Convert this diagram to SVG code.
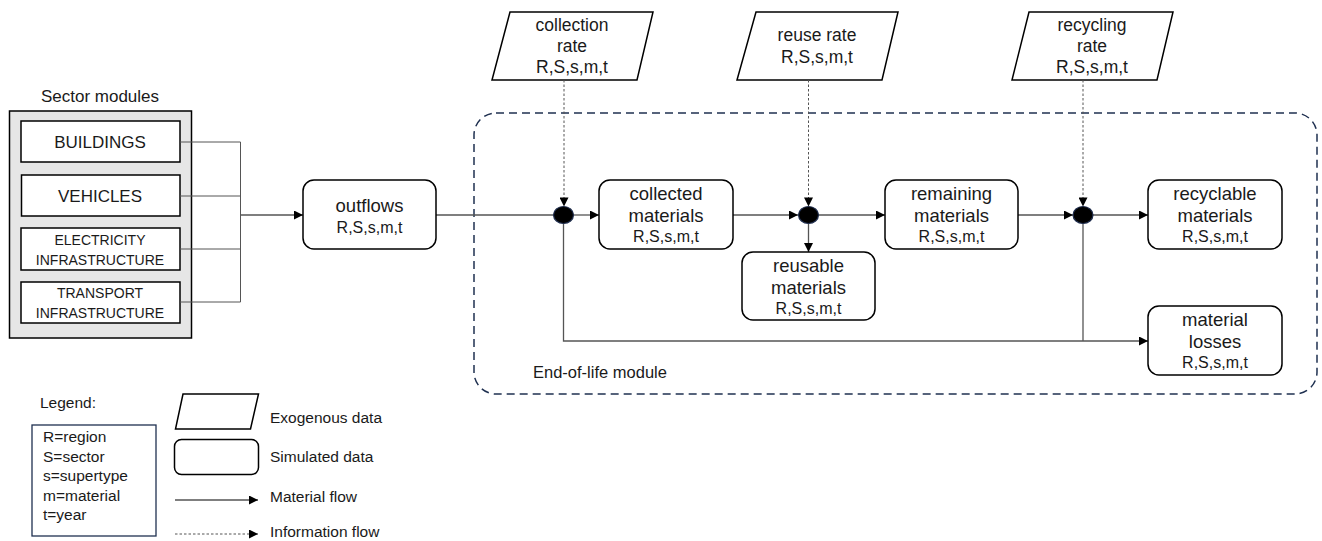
<svg xmlns="http://www.w3.org/2000/svg" width="1322" height="541" viewBox="0 0 1322 541">
<style>
text{font-family:"Liberation Sans",Arial,sans-serif;fill:#1a1a1a}
.lbl{font-size:18.5px;text-anchor:middle}
.idx{font-size:16px;text-anchor:middle}
.plbl{font-size:17.5px;text-anchor:middle}
.node{fill:#fff;stroke:#000;stroke-width:1.5}
.para{fill:#fff;stroke:#000;stroke-width:1.5}
.flow{fill:none;stroke:#555;stroke-width:1.3}
.info{fill:none;stroke:#555;stroke-width:1;stroke-dasharray:2.5,2}
.dot{fill:#000;stroke:#1f2d4d;stroke-width:1.2}
.sec{fill:#fff;stroke:#000;stroke-width:1.5}
.leg{font-size:15.5px}
</style>
<defs>
<marker id="arr" viewBox="0 0 10 10" refX="10" refY="5" markerWidth="10" markerHeight="9" markerUnits="userSpaceOnUse" orient="auto"><path d="M0,0 L10,5 L0,10 z" fill="#000"/></marker>
</defs>

<!-- End-of-life module boundary -->
<g id="eol-module">
<rect x="474" y="113" width="843" height="281" rx="22" fill="none" stroke="#1f3050" stroke-width="1.5" stroke-dasharray="8,5"/>
<text x="533" y="378" style="font-size:16.5px">End-of-life module</text>
</g>

<!-- Sector modules -->
<g id="sector-modules">
<text x="100" y="102" style="font-size:17px;text-anchor:middle">Sector modules</text>
<rect x="9.5" y="111" width="182" height="227" fill="#e6e6e6" stroke="#000" stroke-width="1.5"/>
</g>
<g id="buildings"><rect class="sec" x="21" y="121" width="159" height="41"/><text x="100" y="148" style="font-size:17px;text-anchor:middle">BUILDINGS</text></g>
<g id="vehicles"><rect class="sec" x="21.5" y="175" width="158.5" height="41"/><text x="100" y="202" style="font-size:17px;text-anchor:middle">VEHICLES</text></g>
<g id="electricity"><rect class="sec" x="21" y="228" width="159" height="42"/><text x="100" y="245" style="font-size:14px;text-anchor:middle">ELECTRICITY</text><text x="100" y="264.5" style="font-size:14px;text-anchor:middle">INFRASTRUCTURE</text></g>
<g id="transport"><rect class="sec" x="21" y="282" width="159" height="41"/><text x="100" y="297.5" style="font-size:14px;text-anchor:middle">TRANSPORT</text><text x="100" y="317.5" style="font-size:14px;text-anchor:middle">INFRASTRUCTURE</text></g>

<!-- Exogenous data -->
<g id="collection-rate">
<polygon class="para" points="510,12 653,12 637,80 492,80"/>
<text class="plbl" x="572" y="31">collection</text>
<text class="plbl" x="572" y="52">rate</text>
<text class="plbl" x="572" y="73">R,S,s,m,t</text>
</g>
<g id="reuse-rate">
<polygon class="para" points="756,12 898,12 882,80 737,80"/>
<text class="plbl" x="817" y="41">reuse rate</text>
<text class="plbl" x="817" y="62.5">R,S,s,m,t</text>
</g>
<g id="recycling-rate">
<polygon class="para" points="1029,12 1173,12 1157,80 1012,80"/>
<text class="plbl" x="1092" y="31">recycling</text>
<text class="plbl" x="1092" y="52">rate</text>
<text class="plbl" x="1092" y="73">R,S,s,m,t</text>
</g>

<!-- Connectors -->
<g id="connectors">
<path d="M180,142 H240.5 M180,196 H240.5 M180,249 H240.5 M180,302 H240.5 M240.5,142 V302" fill="none" stroke="#555" stroke-width="1"/>
<path class="flow" d="M240.5,215 H303" stroke="#000" marker-end="url(#arr)"/>
<path class="flow" d="M436,215 H553.5"/>
<path class="flow" d="M573.5,215 H599" marker-end="url(#arr)"/>
<path class="flow" d="M733,215 H798" marker-end="url(#arr)"/>
<path class="flow" d="M818,215 H885" marker-end="url(#arr)"/>
<path class="flow" d="M808.5,223.5 V252" marker-end="url(#arr)"/>
<path class="flow" d="M1018,215 H1073" marker-end="url(#arr)"/>
<path class="flow" d="M1093,215 H1148" marker-end="url(#arr)"/>
<path class="flow" d="M563.5,223.5 V341 H1148" marker-end="url(#arr)"/>
<path class="flow" d="M1083,223.5 V341"/>
<path class="info" d="M564,80 V206.5" marker-end="url(#arr)"/>
<path class="info" d="M808.5,80 V206.5" marker-end="url(#arr)"/>
<path class="info" d="M1083,80 V206.5" marker-end="url(#arr)"/>
</g>

<!-- Junctions -->
<g id="junction-collection"><ellipse class="dot" cx="563.5" cy="215" rx="10" ry="8.5"/></g>
<g id="junction-reuse"><ellipse class="dot" cx="808.5" cy="215" rx="10" ry="8.5"/></g>
<g id="junction-recycling"><ellipse class="dot" cx="1083" cy="215" rx="10" ry="8.5"/></g>

<!-- Simulated data -->
<g id="outflows">
<rect class="node" x="303" y="180" width="133" height="69" rx="11"/>
<text class="lbl" x="369.5" y="211.5">outflows</text>
<text class="idx" x="369.5" y="232.5">R,S,s,m,t</text>
</g>
<g id="collected-materials">
<rect class="node" x="599" y="180" width="134" height="69" rx="11"/>
<text class="lbl" x="666" y="199.5">collected</text>
<text class="lbl" x="666" y="221.5">materials</text>
<text class="idx" x="666" y="241.5">R,S,s,m,t</text>
</g>
<g id="remaining-materials">
<rect class="node" x="885" y="180" width="133" height="69" rx="11"/>
<text class="lbl" x="951.5" y="199.5">remaining</text>
<text class="lbl" x="951.5" y="221.5">materials</text>
<text class="idx" x="951.5" y="241.5">R,S,s,m,t</text>
</g>
<g id="reusable-materials">
<rect class="node" x="742" y="252" width="133" height="68" rx="11"/>
<text class="lbl" x="808.5" y="271.5">reusable</text>
<text class="lbl" x="808.5" y="293.5">materials</text>
<text class="idx" x="808.5" y="314">R,S,s,m,t</text>
</g>
<g id="recyclable-materials">
<rect class="node" x="1148" y="180" width="134" height="69" rx="11"/>
<text class="lbl" x="1215" y="199.5">recyclable</text>
<text class="lbl" x="1215" y="221.5">materials</text>
<text class="idx" x="1215" y="241.5">R,S,s,m,t</text>
</g>
<g id="material-losses">
<rect class="node" x="1148" y="306" width="134" height="69" rx="11"/>
<text class="lbl" x="1215" y="325.5">material</text>
<text class="lbl" x="1215" y="347.5">losses</text>
<text class="idx" x="1215" y="367.5">R,S,s,m,t</text>
</g>

<!-- Legend -->
<g id="legend">
<text class="leg" x="40" y="408">Legend:</text>
<rect x="32" y="425" width="124" height="111" fill="#fff" stroke="#1f3050" stroke-width="1.3"/>
<text class="leg" x="43" y="442">R=region</text>
<text class="leg" x="43" y="461.5">S=sector</text>
<text class="leg" x="43" y="481">s=supertype</text>
<text class="leg" x="43" y="500.5">m=material</text>
<text class="leg" x="43" y="520">t=year</text>
<polygon class="para" points="183,394 258.5,394 250.5,429 175.5,429"/>
<text class="leg" x="270" y="423">Exogenous data</text>
<rect class="node" x="174.5" y="439.5" width="84" height="35" rx="7"/>
<text class="leg" x="270" y="461.5">Simulated data</text>
<path class="flow" d="M175,500 H258" marker-end="url(#arr)"/>
<text class="leg" x="270" y="502">Material flow</text>
<path class="info" d="M175,534 H258" marker-end="url(#arr)"/>
<text class="leg" x="270" y="537">Information flow</text>
</g>
</svg>
